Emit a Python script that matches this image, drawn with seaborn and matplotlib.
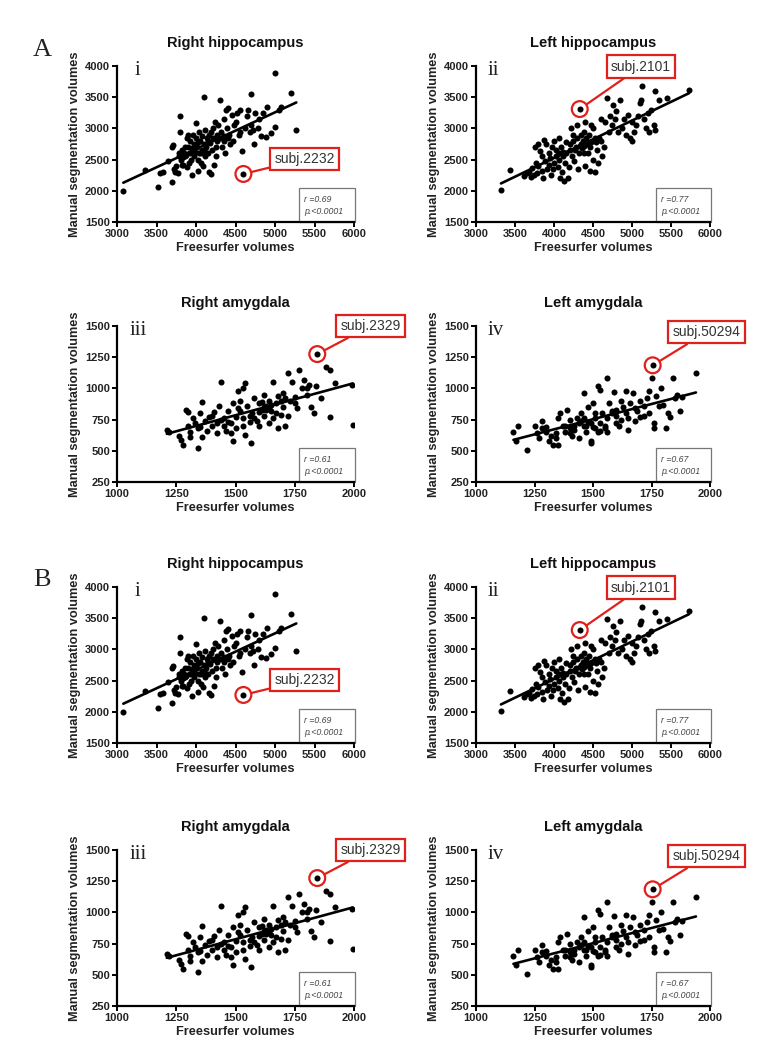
import numpy as np
import pandas as pd
import matplotlib
matplotlib.use("Agg")
import matplotlib.pyplot as plt
import seaborn as sns
from matplotlib.patches import Rectangle

# ---------------- data ----------------
rh_x = [3080, 3360, 3520, 3550, 3580, 3650, 3690, 3700, 3710, 3720, 3730, 3750, 3780, 3790, 3800, 3800,
        3810, 3820, 3830, 3850, 3860, 3870, 3880, 3890, 3900, 3910, 3920, 3930, 3950, 3950, 3960, 3970,
        3980, 4000, 4000, 4010, 4020, 4030, 4040, 4050, 4060, 4070, 4080, 4090, 4100, 4100, 4110, 4120,
        4130, 4140, 4150, 4160, 4170, 4180, 4190, 4200, 4210, 4220, 4230, 4240, 4250, 4260, 4270, 4280,
        4300, 4300, 4320, 4330, 4350, 4360, 4370, 4380, 4390, 4400, 4410, 4420, 4450, 4470, 4500, 4520,
        4550, 4560, 4580, 4600, 4620, 4640, 4660, 4700, 4700, 4720, 4740, 4750, 4780, 4800, 4820, 4850,
        4880, 4900, 4950, 5000, 5000, 5050, 5080, 5200, 5270, 3770, 3840, 3940, 4060, 4150, 4190, 3990,
        4040, 4250, 4350, 4430, 4480, 4560, 4680, 3900, 3860, 3820, 4120, 4020]
rh_y = [1990, 2330, 2060, 2290, 2300, 2480, 2140, 2700, 2730, 2350, 2300, 2400, 2560, 2600, 3200, 2950,
        2500, 2650, 2540, 2600, 2700, 2580, 2380, 2850, 2900, 2450, 2800, 2600, 2260, 2680, 2900, 2750,
        2550, 3080, 2850, 2700, 2500, 2320, 2950, 2800, 2600, 2650, 2880, 2400, 3510, 2750, 2550, 2980,
        2700, 2850, 2600, 2300, 2900, 2770, 2270, 2650, 2850, 3000, 2420, 3100, 2700, 2900, 2800, 3050,
        3450, 2850, 2950, 2700, 3150, 2880, 2600, 3300, 3000, 2850, 3320, 2900, 3220, 2800, 3100, 3250,
        2900, 3300, 2630, 2270, 3000, 3200, 3300, 3550, 3050, 2980, 2750, 3250, 3000, 3150, 2880, 3250,
        2870, 3350, 2920, 3880, 3030, 3300, 3350, 3570, 2970, 2280, 2420, 2500, 2450, 2800, 2950, 2620,
        2600, 2550, 2800, 2750, 3050, 2950, 2950, 2700, 2550, 2420, 2620, 2780]

lh_x = [3320, 3440, 3620, 3650, 3680, 3700, 3720, 3750, 3760, 3770, 3780, 3800, 3800, 3820, 3850, 3860,
        3870, 3880, 3900, 3910, 3930, 3950, 3960, 3980, 4000, 4000, 4020, 4030, 4050, 4060, 4070, 4080,
        4090, 4100, 4110, 4130, 4140, 4150, 4160, 4180, 4200, 4210, 4220, 4230, 4250, 4260, 4280, 4300,
        4300, 4310, 4320, 4330, 4340, 4350, 4360, 4370, 4380, 4390, 4400, 4400, 4410, 4420, 4430, 4450,
        4460, 4480, 4500, 4500, 4520, 4530, 4550, 4560, 4580, 4600, 4600, 4620, 4650, 4680, 4700, 4720,
        4750, 4760, 4780, 4800, 4820, 4850, 4870, 4900, 4920, 4950, 4980, 5000, 5000, 5020, 5050, 5080,
        5100, 5120, 5130, 5150, 5180, 5200, 5220, 5250, 5280, 5300, 5300, 5350, 5450, 5730, 3840, 3990,
        4120, 4190, 4270, 4330, 4380, 4460, 4540, 4640, 4060, 3940, 4240, 4470]
lh_y = [2010, 2330, 2230, 2280, 2300, 2220, 2360, 2250, 2700, 2450, 2280, 2400, 2750, 2630, 2550, 2200,
        2820, 2480, 2750, 2350, 2600, 2520, 2250, 2700, 2450, 2800, 2550, 2650, 2380, 2840, 2500, 2200,
        2700, 2300, 2560, 2160, 2450, 2780, 2600, 2200, 2650, 2750, 3000, 2550, 2800, 2480, 2700, 3050,
        2850, 2350, 2600, 3310, 2750, 2900, 2680, 2800, 2950, 2720, 3100, 2400, 2850, 2750, 2600, 2900,
        2320, 2780, 3000, 2500, 2850, 2300, 2650, 2450, 2850, 2800, 3150, 2550, 3100, 3480, 2950, 3200,
        3050, 3380, 3150, 3280, 2950, 3450, 3000, 3150, 2900, 3220, 2850, 2800, 3100, 2950, 3050, 3200,
        3400, 3450, 3680, 3150, 3000, 3250, 2950, 3300, 3050, 2980, 3600, 3450, 3480, 3620, 2320, 2350,
        2620, 2380, 2650, 2720, 2600, 2700, 2780, 2700, 2600, 2420, 2900, 3050]

ra_x = [1210, 1220, 1260, 1270, 1280, 1290, 1300, 1300, 1310, 1320, 1330, 1340, 1340, 1350, 1360, 1360,
        1370, 1380, 1390, 1400, 1410, 1420, 1430, 1440, 1440, 1450, 1460, 1470, 1480, 1490, 1490, 1500,
        1500, 1510, 1510, 1520, 1530, 1530, 1540, 1540, 1550, 1560, 1565, 1570, 1580, 1590, 1600, 1600,
        1610, 1620, 1620, 1630, 1640, 1640, 1650, 1660, 1660, 1670, 1680, 1680, 1690, 1700, 1710, 1710,
        1720, 1720, 1730, 1740, 1750, 1760, 1770, 1780, 1790, 1800, 1810, 1820, 1830, 1840, 1845, 1860,
        1880, 1900, 1900, 1920, 1990, 1995, 1450, 1470, 1520, 1560, 1600, 1630, 1650, 1690, 1400, 1350,
        1580, 1620, 1670, 1700, 1480, 1530, 1610, 1640, 1420, 1310, 1750, 1800]
ra_y = [670, 650, 620, 590, 550, 830, 810, 700, 650, 760, 720, 520, 680, 800, 890, 610,
        740, 660, 770, 700, 810, 640, 860, 1050, 750, 700, 660, 820, 720, 580, 880, 680,
        770, 980, 840, 900, 1000, 760, 1040, 630, 860, 730, 560, 800, 920, 740, 880, 700,
        830, 950, 780, 860, 900, 720, 820, 1050, 760, 880, 680, 940, 790, 850, 700, 920,
        1120, 780, 900, 1050, 930, 840, 1150, 1000, 1070, 950, 1030, 850, 800, 1020, 1275, 920,
        1170, 1150, 770, 1040, 1030, 710, 760, 730, 820, 780, 810, 830, 870, 900, 780, 690,
        760, 850, 800, 960, 640, 700, 890, 840, 720, 610, 880, 1000]

la_x = [1160, 1170, 1180, 1220, 1250, 1260, 1270, 1280, 1280, 1300, 1310, 1320, 1330, 1340, 1350, 1350,
        1360, 1370, 1380, 1390, 1400, 1400, 1410, 1420, 1430, 1440, 1440, 1450, 1460, 1460, 1470, 1480,
        1480, 1490, 1490, 1500, 1500, 1510, 1520, 1520, 1530, 1530, 1540, 1550, 1560, 1560, 1570, 1580,
        1590, 1600, 1610, 1620, 1630, 1640, 1650, 1650, 1660, 1670, 1680, 1690, 1700, 1720, 1730, 1740,
        1740, 1750, 1755, 1760, 1760, 1770, 1790, 1800, 1810, 1820, 1830, 1840, 1850, 1860, 1870, 1880,
        1940, 1450, 1470, 1490, 1510, 1530, 1550, 1580, 1600, 1420, 1380, 1340, 1620, 1680, 1700, 1780,
        1560, 1510, 1460, 1400, 1300, 1640, 1720, 1600]
la_y = [650, 580, 700, 510, 700, 640, 600, 680, 740, 650, 580, 620, 550, 600, 550, 760,
        800, 700, 650, 830, 680, 750, 620, 700, 760, 600, 720, 800, 960, 700, 650, 850,
        730, 580, 560, 690, 880, 760, 1020, 650, 990, 720, 800, 680, 1080, 760, 880, 820,
        970, 780, 700, 900, 850, 980, 670, 760, 880, 960, 740, 820, 900, 780, 920, 980,
        800, 1080, 1185, 720, 680, 940, 1000, 870, 680, 800, 770, 1080, 920, 950, 820, 930,
        1120, 740, 700, 720, 680, 660, 700, 800, 830, 670, 700, 640, 750, 840, 770, 860,
        650, 800, 760, 640, 690, 800, 860, 720]

titles = ["Right hippocampus", "Left hippocampus", "Right amygdala", "Left amygdala"]
numerals = ["i", "ii", "iii", "iv"]
r_values = ["0.69", "0.77", "0.61", "0.67"]
p_text = "p.<0.0001"
subj_labels = ["subj.2232", "subj.2101", "subj.2329", "subj.50294"]
subj_x = [4600, 4330, 1845, 1755]
subj_y = [2270, 3310, 1275, 1185]
subj_box_xy = [(5376, 2510), (5114, 3990), (2070, 1500), (1985, 1450)]
hip_xticks = [3000, 3500, 4000, 4500, 5000, 5500, 6000]
hip_yticks = [1500, 2000, 2500, 3000, 3500, 4000]
amy_xticks = [1000, 1250, 1500, 1750, 2000]
amy_yticks = [250, 500, 750, 1000, 1250, 1500]
group_letters = ["A", "B"]

datasets = [(rh_x, rh_y), (lh_x, lh_y), (ra_x, ra_y), (la_x, la_y)]
xticks_list = [hip_xticks, hip_xticks, amy_xticks, amy_xticks]
yticks_list = [hip_yticks, hip_yticks, amy_yticks, amy_yticks]

# ---------------- figure ----------------
sns.set_theme(style="ticks")
plt.rcParams["font.family"] = ["Liberation Sans", "DejaVu Sans"]

W, H = 784, 1050
fig = plt.figure(figsize=(W / 100, H / 100), dpi=100)

col_left = [117, 476]
col_width = [237, 234]
row_tops = [66, 326, 587, 850]
ax_h = 156

numeral_x = [0.075, 0.05, 0.055, 0.05]

for g in range(2):
    for k in range(4):
        col = k % 2
        row = g * 2 + k // 2
        l = col_left[col] / W
        b = 1 - (row_tops[row] + ax_h) / H
        ax = fig.add_axes([l, b, col_width[col] / W, ax_h / H])
        xs, ys = datasets[k]
        df = pd.DataFrame({"x": xs, "y": ys})
        sns.regplot(data=df, x="x", y="y", ax=ax, ci=None, color="black",
                    scatter_kws=dict(s=19, linewidths=0, alpha=1),
                    line_kws=dict(lw=1.9))
        ax.set_xlim(xticks_list[k][0], xticks_list[k][-1])
        ax.set_ylim(yticks_list[k][0], yticks_list[k][-1])
        ax.set_xticks(xticks_list[k])
        ax.set_yticks(yticks_list[k])
        for s in ["top", "right"]:
            ax.spines[s].set_visible(False)
        for s in ["left", "bottom"]:
            ax.spines[s].set_linewidth(1.6)
            ax.spines[s].set_color("black")
        ax.tick_params(axis="both", width=1.4, length=3.5, labelsize=8, pad=1.5, colors="black")
        for lab in ax.get_xticklabels() + ax.get_yticklabels():
            lab.set_fontweight("bold")
            lab.set_color("#222")
        ax.set_xlabel("Freesurfer volumes", fontsize=9.2, fontweight="bold", labelpad=2, color="#222")
        ax.set_ylabel("Manual segmentation volumes", fontsize=9.2, fontweight="bold", labelpad=3, color="#222")
        ax.set_title(titles[k], fontsize=10.5, fontweight="bold", pad=14, color="#111")
        ax.text(numeral_x[k], 1.03, numerals[k], transform=ax.transAxes, ha="left", va="top",
                fontsize=15, family=["Liberation Serif", "DejaVu Serif"], color="#222")
        # stats box
        ax.add_patch(Rectangle((0.77, 0.0), 0.235, 0.215, transform=ax.transAxes, fill=False,
                               edgecolor="#777", lw=0.9, clip_on=False, zorder=1))
        ax.text(0.79, 0.105, "r =" + r_values[k] + "\n" + p_text, transform=ax.transAxes,
                ha="left", va="center", fontsize=6.3, style="italic", color="#444",
                linespacing=1.35)
        # subject highlight
        ax.scatter([subj_x[k]], [subj_y[k]], s=130, facecolors="none", edgecolors="#e0201b",
                   linewidths=1.6, zorder=5, clip_on=False)
        ax.annotate(subj_labels[k], xy=(subj_x[k], subj_y[k]), xytext=subj_box_xy[k],
                    textcoords="data", ha="center", va="center", fontsize=10, color="#333",
                    bbox=dict(boxstyle="square,pad=0.3", fc="white", ec="#e0201b", lw=1.6),
                    arrowprops=dict(arrowstyle="-", color="#e0201b", lw=1.6, shrinkA=0, shrinkB=5.8),
                    annotation_clip=False, zorder=6)
    # group letter
    fig.text(42 / W, 1 - (50 + g * 530) / H, group_letters[g], ha="center", va="center",
             fontsize=19, family=["Liberation Serif", "DejaVu Serif"], color="#222")

fig.savefig("out.png", dpi=100)
